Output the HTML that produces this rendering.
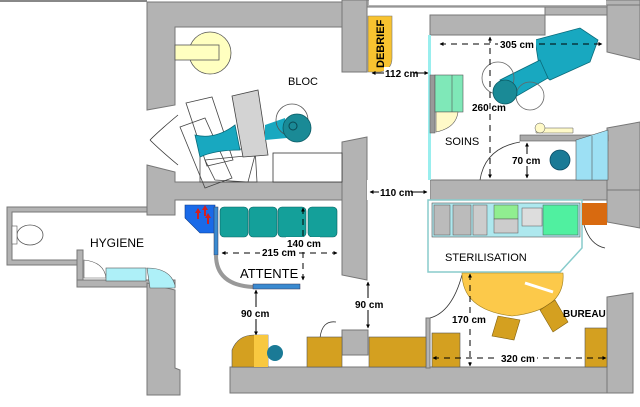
<!DOCTYPE html>
<html><head><meta charset="utf-8"><style>
html,body{margin:0;padding:0;background:#fff;}
svg{display:block;}
text{font-family:"Liberation Sans",sans-serif;}
</style></head><body>
<svg width="640" height="407" viewBox="0 0 640 407" xmlns="http://www.w3.org/2000/svg">
<defs>
<marker id="ah" viewBox="0 0 10 10" refX="9" refY="5" markerWidth="4" markerHeight="4" orient="auto-start-reverse"><path d="M0,0L10,5L0,10z" fill="#000"/></marker>
</defs>
<rect width="640" height="407" fill="#fff"/>
<g fill="#b3b3b3" stroke="#777" stroke-width="1">
<rect x="0" y="0" width="147" height="2" stroke="none" fill="#888"/>
<polygon points="147,2 342,2 342,27 175,27 175,105 147,110"/>
<polygon points="342,0 367,0 367,72 342,72"/>
<rect x="367" y="0" width="273" height="7"/>
<rect x="369" y="0" width="237" height="5" fill="#fff" stroke="none"/>
<polygon points="430,15 545,15 545,7 607,7 607,15 545,15 545,35 430,35"/>
<polygon points="607,5 640,5 640,60 607,52"/>
<polygon points="147,165 175,172 175,182 342,182 342,200 175,200 175,215 147,215"/>
<polygon points="342,142 367,137 367,280 342,275"/>
<polygon points="430,180 607,180 607,200 430,200"/>
<polygon points="607,128 640,122 640,190 607,190"/>
<polygon points="367,180 430,180 430,200 367,200" fill="#fff" stroke="none"/>
<polygon points="607,190 640,190 640,228 607,222"/>
<path d="M7,207 H147 V212 H12 V260 H80 V265 H12 H7 Z"/>
<rect x="77" y="250" width="6" height="35"/>
<rect x="77" y="280" width="98" height="7"/>
<polygon points="147,283 175,290 175,368 180,370 180,395 147,395"/>
<rect x="230" y="367" width="403" height="26"/>
<polygon points="607,297 633,293 633,393 607,393"/>
<rect x="342" y="330" width="26" height="25"/>
<rect x="426" y="318" width="4" height="50"/>
</g>
<g fill="none" stroke="#333" stroke-width="0.8">
<path d="M178,115 Q160,130 150,140"/><path d="M178,165 Q160,150 150,140"/>
<path d="M480,180 Q485,148 520,142"/>
<path d="M584,225 Q590,245 605,248"/>
<path d="M430,318 Q452,312 462,275"/>
<path d="M320,338 Q322,320 336,322"/>
</g>
<circle cx="210" cy="53" r="21" fill="#ffffc0" stroke="#555" stroke-width="0.8"/>
<rect x="175" y="45" width="44" height="15" fill="#ffffc0" stroke="#555" stroke-width="0.8"/>
<rect x="273" y="153" width="69" height="29" fill="#fff" stroke="#333" stroke-width="0.8"/>
<g fill="none" stroke="#444" stroke-width="0.8">
<polygon points="186,103 212,97 233,160 207,166"/>
<polygon points="180,127 205,118 232,178 205,188"/>
<polygon points="200,152 255,148 257,182 200,182"/>
<polygon points="205,160 255,155 248,182 215,180"/>
</g>
<path d="M195,135 Q215,140 235,125 L240,150 Q215,150 200,157 Z" fill="#18a8c0" stroke="#0a6a7a" stroke-width="0.8"/>
<polygon points="232,96 258,90 268,155 243,157" fill="#d3d3d3" stroke="#444" stroke-width="0.8"/>
<path d="M265,125 L285,118 L287,138 L265,140 Z" fill="#18a8c0"/>
<circle cx="292" cy="120" r="16" fill="none" stroke="#555" stroke-width="0.8"/>
<circle cx="297" cy="128" r="14" fill="#1a8a96" stroke="#0a5a64" stroke-width="0.8"/>
<circle cx="293" cy="126" r="4" fill="none" stroke="#0a4a54"/>
<text x="288" y="85" font-size="11">BLOC</text>
<path d="M368,16 H392 V58 Q392,70 380,72 H368 Z" fill="#f8c330" stroke="#777" stroke-width="0.6"/>
<text transform="translate(384,68) rotate(-90)" font-size="11" font-weight="bold">DEBRIEF</text>
<rect x="428" y="35" width="3" height="145" fill="#9ee" />
<rect x="430" y="75" width="5" height="58" fill="#999" stroke="#555" stroke-width="0.5"/>
<rect x="435" y="75" width="28" height="37" fill="#7fe8b8" stroke="#555" stroke-width="0.6"/>
<line x1="452" y1="75" x2="452" y2="112" stroke="#555" stroke-width="0.6"/>
<path d="M436,112 H458 Q456,128 436,132 Z" fill="#fffac8" stroke="#555" stroke-width="0.6"/>
<path d="M535,40 L580,28 L598,40 L590,62 L550,80 L540,72 Z" fill="#18a8c0" stroke="#0a6a7a" stroke-width="0.8"/>
<path d="M500,80 L540,60 L548,78 L510,100 Z" fill="#18a8c0" stroke="#0a6a7a" stroke-width="0.8"/>
<circle cx="498" cy="78" r="16" fill="none" stroke="#666" stroke-width="0.8"/>
<circle cx="530" cy="96" r="14" fill="none" stroke="#666" stroke-width="0.8"/>
<circle cx="505" cy="92" r="12" fill="#1a8a96" stroke="#0a5a64" stroke-width="0.8"/>
<rect x="520" y="135" width="88" height="6" fill="#aaa" stroke="#555" stroke-width="0.6"/>
<path d="M536,128 h37 v5 h-37 z" fill="#fffac8" stroke="#555" stroke-width="0.5"/>
<circle cx="540" cy="128" r="5" fill="#fffac8" stroke="#555" stroke-width="0.5"/>
<polygon points="576,140 608,130 608,180 576,180" fill="#9de0f4" stroke="#555" stroke-width="0.6"/>
<line x1="592" y1="136" x2="592" y2="180" stroke="#555" stroke-width="0.6"/>
<circle cx="560" cy="160" r="10" fill="#1a7a96" stroke="#0a4a64" stroke-width="0.8"/>
<text x="445" y="145" font-size="11">SOINS</text>
<g stroke="#000" stroke-width="1" fill="none">
<line x1="440" y1="44" x2="602" y2="44" stroke-dasharray="6,5" marker-start="url(#ah)" marker-end="url(#ah)"/>
<line x1="490" y1="37" x2="490" y2="178" stroke-dasharray="6,5" marker-start="url(#ah)" marker-end="url(#ah)"/>
<line x1="527" y1="143" x2="527" y2="178" marker-start="url(#ah)" marker-end="url(#ah)"/>
<line x1="372" y1="73" x2="428" y2="73" marker-start="url(#ah)" marker-end="url(#ah)"/>
<line x1="370" y1="192" x2="427" y2="192" marker-start="url(#ah)" marker-end="url(#ah)"/>
</g>
<rect x="498" y="37" width="38" height="12" fill="#fff"/>
<text x="500" y="48" font-size="10" font-weight="bold">305 cm</text>
<text x="472" y="111" font-size="10" font-weight="bold">260 cm</text>
<rect x="384" y="67" width="30" height="12" fill="#fff"/>
<text x="385" y="77" font-size="10" font-weight="bold">112 cm</text>
<rect x="511" y="154" width="28" height="12" fill="#fff"/>
<text x="512" y="164" font-size="10" font-weight="bold">70 cm</text>
<rect x="379" y="186" width="32" height="12" fill="#fff"/>
<text x="380" y="196" font-size="10" font-weight="bold">110 cm</text>
<!-- STERILISATION -->
<polygon points="428,200 582,200 582,248 560,272 428,272" fill="#fff" stroke="#8cc" stroke-width="1.5"/>
<rect x="432" y="203" width="148" height="34" fill="#aee8ee" stroke="#555" stroke-width="0.6"/>
<rect x="434" y="205" width="16" height="30" fill="#bbb" stroke="#555" stroke-width="0.5"/>
<rect x="453" y="205" width="18" height="30" fill="#bbb" stroke="#555" stroke-width="0.5"/>
<rect x="473" y="205" width="14" height="30" fill="#ccc" stroke="#555" stroke-width="0.5"/>
<rect x="494" y="205" width="24" height="14" fill="#90ee90" stroke="#555" stroke-width="0.5"/>
<rect x="494" y="219" width="24" height="14" fill="#ccc" stroke="#555" stroke-width="0.5"/>
<rect x="522" y="208" width="20" height="18" fill="#ddd" stroke="#555" stroke-width="0.5"/>
<rect x="543" y="205" width="35" height="30" fill="#50f0a0" stroke="#555" stroke-width="0.5"/>
<rect x="582" y="203" width="25" height="22" fill="#d86a10"/>
<text x="445" y="261" font-size="11">STERILISATION</text>
<!-- BUREAU -->
<path d="M462,273 H563 Q566,310 512,316 Q462,310 462,273 Z" fill="#fcc94a" stroke="#a08020" stroke-width="0.6"/>
<line x1="525" y1="283" x2="553" y2="292" stroke="#fff" stroke-width="3"/>
<polygon points="498,316 520,320 514,340 492,336" fill="#d4a020" stroke="#806010" stroke-width="0.6"/>
<polygon points="540,310 555,300 568,322 553,332" fill="#d4a020" stroke="#806010" stroke-width="0.6"/>
<rect x="432" y="333" width="28" height="34" fill="#d4a020" stroke="#555" stroke-width="0.6"/>
<rect x="585" y="328" width="22" height="39" fill="#d4a020" stroke="#555" stroke-width="0.6"/>
<text x="563" y="317" font-size="10" font-weight="bold">BUREAU</text>
<g stroke="#000" stroke-width="1" fill="none">
<line x1="470" y1="274" x2="470" y2="366" stroke-dasharray="6,5" marker-start="url(#ah)" marker-end="url(#ah)"/>
<line x1="433" y1="358" x2="606" y2="358" stroke-dasharray="6,5" marker-start="url(#ah)" marker-end="url(#ah)"/>
<line x1="368" y1="282" x2="368" y2="328" marker-start="url(#ah)" marker-end="url(#ah)"/>
<line x1="256" y1="290" x2="256" y2="335" marker-start="url(#ah)" marker-end="url(#ah)"/>
</g>
<rect x="451" y="313" width="38" height="12" fill="#fff"/>
<text x="452" y="323" font-size="10" font-weight="bold">170 cm</text>
<rect x="499" y="352" width="38" height="12" fill="#fff"/>
<text x="501" y="362" font-size="10" font-weight="bold">320 cm</text>
<rect x="354" y="298" width="28" height="12" fill="#fff"/>
<text x="355" y="308" font-size="10" font-weight="bold">90 cm</text>
<rect x="240" y="307" width="28" height="12" fill="#fff"/>
<text x="241" y="317" font-size="10" font-weight="bold">90 cm</text>
<rect x="307" y="337" width="35" height="30" fill="#d4a020" stroke="#555" stroke-width="0.6"/>
<rect x="369" y="337" width="57" height="30" fill="#d4a020" stroke="#555" stroke-width="0.6"/>
<path d="M232,367 V350 Q238,335 254,335 H268 V367 Z" fill="#d4a020" stroke="#555" stroke-width="0.6"/>
<rect x="254" y="335" width="14" height="32" fill="#f8c840"/>
<circle cx="275" cy="353" r="8" fill="#1a7a96"/>
<polygon points="185,205 215,205 215,233 200,233 185,218" fill="#1a6ae8" stroke="#0a3a88" stroke-width="0.6"/>
<g fill="#d02020"><path d="M195,213 l3,-5 3,5 h-2 v6 h-2 v-6z"/><path d="M202,210 l3,-5 3,5 h-2 v6 h-2 v-6z"/><path d="M205,218 l3,-5 3,5 h-2 v6 h-2 v-6z"/></g>
<g fill="#14a09a" stroke="#0a6060" stroke-width="0.6">
<rect x="220" y="207" width="28" height="30" rx="4"/><rect x="249" y="207" width="28" height="30" rx="4"/>
<rect x="278" y="207" width="28" height="30" rx="4"/><rect x="308" y="207" width="29" height="30" rx="4"/>
</g>
<rect x="214" y="207" width="4" height="48" fill="#3a8ad0" stroke="#335" stroke-width="0.5"/>
<path d="M216,255 Q216,285 253,287" fill="none" stroke="#999" stroke-width="4"/>
<rect x="253" y="284" width="47" height="5" fill="#3a8ad0" stroke="#335" stroke-width="0.5"/>
<g stroke="#000" stroke-width="1" fill="none">
<line x1="222" y1="253" x2="337" y2="253" stroke-dasharray="6,5" marker-start="url(#ah)" marker-end="url(#ah)"/>
<line x1="303" y1="208" x2="303" y2="280" stroke-dasharray="6,5" marker-start="url(#ah)" marker-end="url(#ah)"/>
</g>
<rect x="260" y="246" width="36" height="12" fill="#fff"/>
<text x="262" y="256" font-size="10" font-weight="bold">215 cm</text>
<rect x="286" y="237" width="34" height="12" fill="#fff"/>
<text x="287" y="247" font-size="10" font-weight="bold">140 cm</text>
<text x="240" y="278" font-size="13">ATTENTE</text>
<ellipse cx="30" cy="235" rx="13" ry="10" fill="#fff" stroke="#555" stroke-width="0.8"/>
<rect x="12" y="226" width="5" height="18" fill="#fff" stroke="#555" stroke-width="0.6"/>
<path d="M84,260 V278 H106 Q104,262 84,260 Z" fill="#fff" stroke="#555" stroke-width="0.6"/>
<rect x="106" y="268" width="40" height="13" fill="#aef0f8" stroke="#555" stroke-width="0.6"/>
<path d="M147,268 Q170,268 175,285 V288 H150 Z" fill="#aef0f8" stroke="#555" stroke-width="0.6"/>
<text x="90" y="247" font-size="12">HYGIENE</text>
</svg>
</body></html>
